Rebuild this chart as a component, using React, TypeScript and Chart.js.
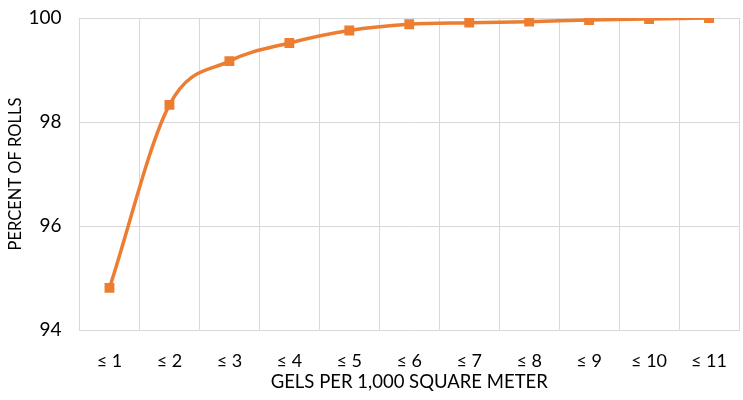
import React, { useEffect, useRef } from "react";
import { Chart, registerables } from "chart.js";

Chart.register(...registerables);

const categories = ["≤ 1", "≤ 2", "≤ 3", "≤ 4", "≤ 5", "≤ 6", "≤ 7", "≤ 8", "≤ 9", "≤ 10", "≤ 11"];
const percentOfRolls = [94.81, 98.33, 99.17, 99.52, 99.76, 99.88, 99.91, 99.93, 99.96, 99.98, 100.0];
const yTicks = [94, 96, 98, 100];

const FONT = "Lato, 'Open Sans', sans-serif";
const ORANGE = "#ED7D31";
const GRID = "#d9d9d9";

export default function App() {
  const ref = useRef<HTMLCanvasElement | null>(null);
  useEffect(() => {
    document.body.style.margin = "0";
    document.body.style.overflow = "hidden";
    const chart = new Chart(ref.current!, {
      type: "line",
      data: {
        labels: categories,
        datasets: [
          {
            data: percentOfRolls,
            borderColor: ORANGE,
            backgroundColor: ORANGE,
            borderWidth: 3.5,
            pointStyle: "rect",
            pointRadius: 4.5,
            pointBackgroundColor: ORANGE,
            pointBorderColor: ORANGE,
            cubicInterpolationMode: "monotone",
            fill: false,
          },
        ],
      },
      options: {
        animation: false,
        responsive: false,
        maintainAspectRatio: false,
        layout: { padding: { top: 18, right: 0, bottom: 0, left: 0 } },
        plugins: { legend: { display: false }, tooltip: { enabled: false } },
        scales: {
          x: {
            offset: true,
            grid: { offset: true, color: GRID, drawTicks: false },
            border: { color: GRID },
            ticks: { color: "#000", font: { family: FONT, size: 18 }, padding: 20 },
            title: {
              display: true,
              text: "GELS PER 1,000 SQUARE METER",
              color: "#000",
              font: { family: FONT, size: 18.5 },
              padding: { top: 2, bottom: 7 },
            },
            afterFit: (s: any) => {
              s.height = 70;
              s.paddingLeft = 0;
              s.paddingRight = 0;
            },
          },
          y: {
            min: 94,
            max: 100,
            afterBuildTicks: (s: any) => {
              s.ticks = yTicks.map((v) => ({ value: v }));
            },
            grid: { color: GRID, drawTicks: false },
            border: { color: GRID },
            ticks: { color: "#000", font: { family: FONT, size: 19 }, padding: 18 },
            title: {
              display: true,
              text: "PERCENT OF ROLLS",
              color: "#000",
              font: { family: FONT, size: 16.5 },
              padding: { top: 6, bottom: 0 },
            },
            afterFit: (s: any) => {
              s.width = 79.5;
              s.paddingTop = 0;
              s.paddingBottom = 0;
            },
          },
        },
      },
    });
    return () => chart.destroy();
  }, []);
  return <canvas ref={ref} width={747} height={400} style={{ display: "block" }} />;
}
